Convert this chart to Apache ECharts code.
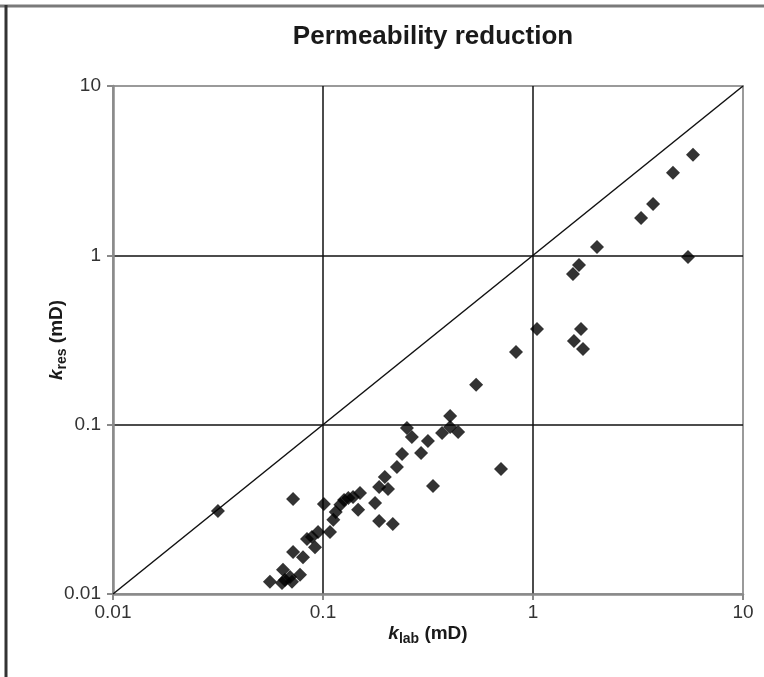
<!DOCTYPE html>
<html>
<head>
<meta charset="utf-8">
<script src="https://cdn.jsdelivr.net/npm/echarts@6/dist/echarts.min.js"></script>
<style>html,body{margin:0;padding:0;background:#fff;}#c{width:764px;height:677px;}</style>
</head>
<body>
<div id="c"></div>
<script>
const titleText = 'Permeability reduction';
const kLab = [0.0316,0.072,0.101,0.112,0.115,0.121,0.126,0.132,0.139,0.150,0.147,0.177,0.185,0.215,0.185,0.204,0.197,0.225,0.238,0.251,0.265,0.293,0.316,0.334,0.369,0.403,0.403,0.44,0.536,0.704,0.83,1.045,1.55,1.656,1.567,1.693,1.73,2.017,3.27,3.73,4.64,5.78,5.47,0.0947,0.108,0.0886,0.0839,0.0916,0.072,0.0803,0.0645,0.0777,0.0697,0.0659,0.0559,0.0638,0.0712];
const kRes = [0.0309,0.0364,0.034,0.0274,0.0305,0.0336,0.0359,0.0369,0.0374,0.0395,0.0314,0.0345,0.027,0.0259,0.0429,0.0417,0.0491,0.0563,0.0671,0.0956,0.0846,0.068,0.0801,0.0434,0.0893,0.1126,0.0969,0.0906,0.172,0.0547,0.269,0.367,0.776,0.878,0.312,0.367,0.28,1.12,1.66,2.01,3.07,3.92,0.978,0.0232,0.0232,0.0217,0.0211,0.0189,0.0177,0.0165,0.0139,0.013,0.0126,0.0121,0.0118,0.0116,0.0118];
const diagX = [0.01, 10];
const diagY = [0.01, 10];
const tickLabels = ['0.01', '0.1', '1', '10'];
const axisMin = 0.01, axisMax = 10;

const font = 'Liberation Sans, Arial, sans-serif';
function fmt(v){ const i = Math.round(Math.log10(v)) + 2; return tickLabels[i] !== undefined ? tickLabels[i] : ''; }
const nameRich = {
  i: {fontFamily: font, fontSize: 19, fontWeight: 'bold', fontStyle: 'italic', color: '#1a1a1a'},
  s: {fontFamily: font, fontSize: 14, fontWeight: 'bold', color: '#1a1a1a', padding: [10, 0, 0, 0]},
  n: {fontFamily: font, fontSize: 19, fontWeight: 'bold', color: '#1a1a1a'}
};
function axisCommon(){
  return {
    type: 'log', logBase: 10, min: axisMin, max: axisMax,
    axisLine: {show: true, lineStyle: {color: '#8a8a8a', width: 2.5}},
    axisTick: {show: true, length: 6, inside: false, lineStyle: {color: '#8a8a8a', width: 2}},
    minorTick: {show: false},
    splitLine: {show: true, showMinLine: false, showMaxLine: false, lineStyle: {color: '#111', width: 1.5}},
    nameLocation: 'middle',
    nameMoveOverlap: false
  };
}
const chart = echarts.init(document.getElementById('c'), null, {renderer: 'canvas'});
const scatterData = kLab.map((x, i) => [x, kRes[i]]);
const diagData = diagX.map((x, i) => [x, diagY[i]]);
chart.setOption({
  animation: false,
  backgroundColor: '#fff',
  title: {
    text: titleText, left: 428, top: 19, textAlign: 'center',
    textStyle: {fontFamily: font, fontSize: 26, fontWeight: 'bold', color: '#1a1a1a'}
  },
  grid: {left: 113, right: 21, top: 86, bottom: 83, show: true, borderColor: '#9a9a9a', borderWidth: 2, backgroundColor: 'transparent'},
  xAxis: Object.assign(axisCommon(), {
    name: '{i|k}{s|lab}{n| (mD)}', nameGap: 28,
    nameTextStyle: {rich: nameRich},
    axisLabel: {formatter: fmt, fontFamily: font, fontSize: 19, color: '#333', margin: 9}
  }),
  yAxis: Object.assign(axisCommon(), {
    name: '{i|k}{s|res}{n| (mD)}', nameGap: 44,
    nameTextStyle: {rich: nameRich},
    axisLabel: {formatter: fmt, fontFamily: font, fontSize: 19, color: '#333', margin: 12}
  }),
  graphic: [
    {type: 'line', shape: {x1: 0, y1: 6, x2: 764, y2: 6}, style: {stroke: '#7a7a7a', lineWidth: 3}, silent: true},
    {type: 'line', shape: {x1: 6, y1: 5, x2: 6, y2: 677}, style: {stroke: '#333', lineWidth: 3}, silent: true}
  ],
  series: [
    {type: 'line', data: diagData, symbol: 'none', lineStyle: {color: '#111', width: 1.5}, silent: true, z: 2},
    {type: 'scatter', data: scatterData, symbol: 'diamond', symbolSize: 14, itemStyle: {color: '#000'}, z: 3}
  ]
});
</script>
</body>
</html>
